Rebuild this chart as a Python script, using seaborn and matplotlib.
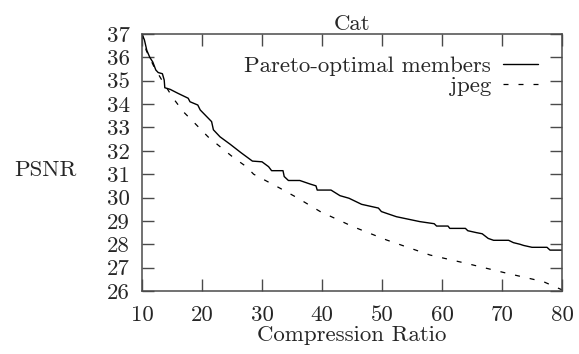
import matplotlib
matplotlib.use("Agg")
import matplotlib.pyplot as plt
import seaborn as sns
import pandas as pd

# ---- data ----
pareto_x = [10.0, 10.4, 10.8, 11.3, 11.8, 12.3, 12.7, 13.4, 13.7, 13.8, 14.7, 16.0,
            17.7, 18.0, 19.3, 19.7, 20.8, 21.6, 21.9, 23.0, 24.7, 26.5, 27.4, 28.4,
            30.0, 31.1, 31.6, 33.5, 33.7, 34.4, 36.3, 38.0, 39.0, 39.2, 41.5, 43.0,
            44.5, 46.6, 49.4, 49.9, 50.8, 52.4, 56.3, 58.7, 59.1, 61.0, 61.3, 63.9,
            64.3, 65.7, 66.7, 67.7, 68.6, 71.1, 71.9, 73.0, 73.6, 75.0, 77.5, 78.0, 80.0]
pareto_y = [37.0, 36.75, 36.3, 36.0, 35.8, 35.46, 35.35, 35.3, 35.03, 34.7, 34.63, 34.46,
            34.25, 34.1, 33.96, 33.75, 33.46, 33.25, 32.9, 32.6, 32.28, 31.92, 31.75, 31.56,
            31.53, 31.32, 31.15, 31.15, 30.9, 30.73, 30.73, 30.58, 30.5, 30.32, 30.32, 30.08,
            29.97, 29.71, 29.55, 29.4, 29.32, 29.18, 28.97, 28.88, 28.78, 28.78, 28.68, 28.68,
            28.58, 28.5, 28.45, 28.25, 28.17, 28.17, 28.07, 28.0, 27.95, 27.87, 27.87, 27.75, 27.75]

jpeg_x = [10.0, 10.7, 12.0, 13.3, 15.2, 16.9, 18.8, 21.0, 23.0, 25.2, 27.4, 28.6,
          33.0, 35.8, 39.7, 45.2, 50.8, 58.0, 64.1, 70.8, 76.9, 80.0]
jpeg_y = [37.0, 36.3, 35.6, 35.03, 34.25, 33.67, 33.18, 32.6, 32.18, 31.72, 31.32, 31.0,
          30.4, 30.0, 29.4, 28.75, 28.18, 27.54, 27.18, 26.76, 26.4, 26.05]

x_ticks = [10, 20, 30, 40, 50, 60, 70, 80]
y_ticks = [26, 27, 28, 29, 30, 31, 32, 33, 34, 35, 36, 37]

title = "Cat"
x_label = "Compression Ratio"
y_label = "PSNR"
label_pareto = "Pareto-optimal members"
label_jpeg = "jpeg"

sns.set_style("ticks")
plt.rcParams['font.family'] = ['cmr10', 'DejaVu Serif']
plt.rcParams['mathtext.fontset'] = 'cm'
plt.rcParams['axes.unicode_minus'] = False
plt.rcParams['axes.formatter.use_mathtext'] = True

fs = 16.5
fig = plt.figure(figsize=(5.79, 3.54), dpi=100)
ax = fig.add_axes([142/579, 1-291/354, 420/579, 257/354])

df_p = pd.DataFrame({"x": pareto_x, "y": pareto_y})
df_j = pd.DataFrame({"x": jpeg_x, "y": jpeg_y})

sns.lineplot(data=df_p, x="x", y="y", ax=ax, color="black", linewidth=1.0,
             estimator=None, sort=False, label=label_pareto)
sns.lineplot(data=df_j, x="x", y="y", ax=ax, color="black", linewidth=0.9,
             estimator=None, sort=False, label=label_jpeg, linestyle=(0, (4, 8)))

ax.set_xlim(10, 80)
ax.set_ylim(26, 37)
ax.set_xticks(x_ticks)
ax.set_xticklabels([str(t) for t in x_ticks])
ax.set_yticks(y_ticks)
ax.set_yticklabels([str(t) for t in y_ticks])

spine_col = "#4a4a4a"
for s in ax.spines.values():
    s.set_visible(True)
    s.set_color(spine_col)
    s.set_linewidth(1.1)

ax.tick_params(axis="both", which="major", direction="in", length=8.6, width=1.0,
               color=spine_col, top=True, right=True, labelsize=fs)
ax.tick_params(axis="x", pad=10.5)
ax.tick_params(axis="y", pad=8.5)

ax.set_title(title, fontsize=fs, pad=3)
ax.set_xlabel(x_label, fontsize=fs, labelpad=0)
ax.set_ylabel(y_label, fontsize=fs, rotation=0, ha="center", va="center")
ax.yaxis.set_label_coords(-0.229, 0.471)

leg = ax.legend(loc="upper right", bbox_to_anchor=(0.943, 0.916), frameon=False,
                markerfirst=False, fontsize=fs, handlelength=1.53, handletextpad=0.52,
                labelspacing=0.0, borderpad=0.0, borderaxespad=0.0)
for t in leg.get_texts():
    t.set_ha("right")

fig.savefig("out.png", dpi=100)
